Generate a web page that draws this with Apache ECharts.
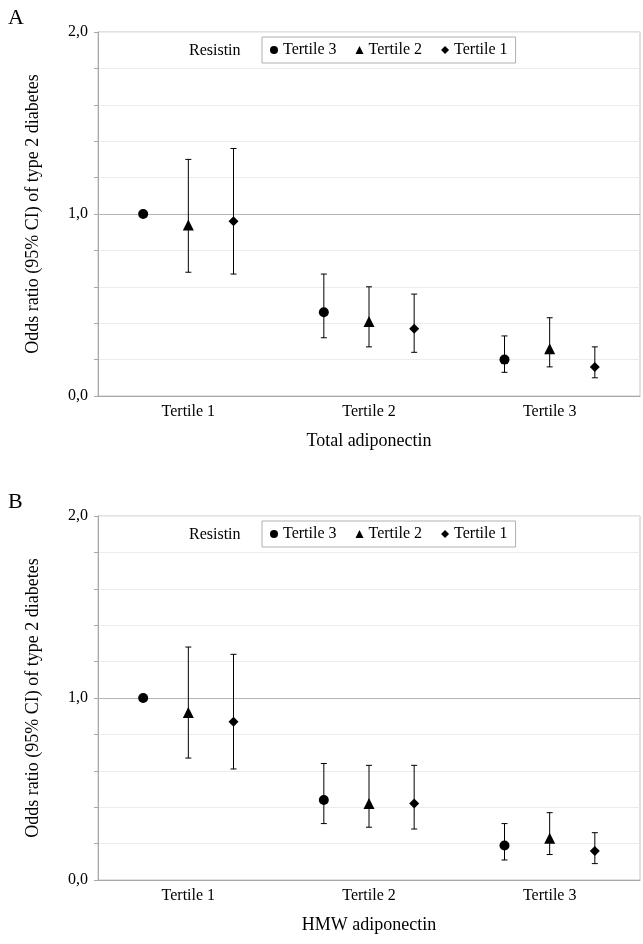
<!DOCTYPE html>
<html>
<head>
<meta charset="utf-8">
<script src="https://cdn.jsdelivr.net/npm/echarts@6/dist/echarts.min.js"></script>
<style>
html,body{margin:0;padding:0;background:#fff;}
#c{width:643px;height:944px;}
</style>
</head>
<body>
<div id="c"></div>
<script>
// ---- data ----
const categories = ['Tertile 1', 'Tertile 2', 'Tertile 3'];
const groupNames = ['Tertile 3', 'Tertile 2', 'Tertile 1'];
const yTicks = [0, 1, 2];

// Panel A: Total adiponectin
const aT3 = [1.00, 0.46, 0.20];
const aT3Lo = [null, 0.32, 0.13];
const aT3Hi = [null, 0.67, 0.33];
const aT2 = [0.94, 0.41, 0.26];
const aT2Lo = [0.68, 0.27, 0.16];
const aT2Hi = [1.30, 0.60, 0.43];
const aT1 = [0.96, 0.37, 0.16];
const aT1Lo = [0.67, 0.24, 0.10];
const aT1Hi = [1.36, 0.56, 0.27];

// Panel B: HMW adiponectin
const bT3 = [1.00, 0.44, 0.19];
const bT3Lo = [null, 0.31, 0.11];
const bT3Hi = [null, 0.64, 0.31];
const bT2 = [0.92, 0.42, 0.23];
const bT2Lo = [0.67, 0.29, 0.14];
const bT2Hi = [1.28, 0.63, 0.37];
const bT1 = [0.87, 0.42, 0.16];
const bT1Lo = [0.61, 0.28, 0.09];
const bT1Hi = [1.24, 0.63, 0.26];

// ---- chart ----
const FONT = 'Liberation Serif';
const dodge = [-0.25, 0, 0.25];
const symbols = ['circle', 'triangle', 'diamond'];
const symbolSizes = [10, 11, 10];

const panels = [
  { letter: 'A', xname: 'Total adiponectin', top: 32,
    vals: [aT3, aT2, aT1], lo: [aT3Lo, aT2Lo, aT1Lo], hi: [aT3Hi, aT2Hi, aT1Hi] },
  { letter: 'B', xname: 'HMW adiponectin', top: 516,
    vals: [bT3, bT2, bT1], lo: [bT3Lo, bT2Lo, bT1Lo], hi: [bT3Hi, bT2Hi, bT1Hi] }
];
const H = 364;

function renderErr(params, api) {
  const x = api.value(0), lo = api.value(1), hi = api.value(2);
  const p1 = api.coord([x, hi]);
  const p2 = api.coord([x, lo]);
  const cap = 3;
  const st = { stroke: '#000', lineWidth: 1 };
  return {
    type: 'group',
    children: [
      { type: 'line', shape: { x1: p1[0], y1: p1[1], x2: p2[0], y2: p2[1] }, style: st },
      { type: 'line', shape: { x1: p1[0] - cap, y1: p1[1], x2: p1[0] + cap, y2: p1[1] }, style: st },
      { type: 'line', shape: { x1: p2[0] - cap, y1: p2[1], x2: p2[0] + cap, y2: p2[1] }, style: st }
    ]
  };
}

const grid = [], xAxis = [], yAxis = [], series = [], legend = [], graphic = [];

panels.forEach((p, pi) => {
  grid.push({ left: 98, right: 3, top: p.top, height: H, show: true,
    borderColor: '#c4c4c4', borderWidth: 1, backgroundColor: 'transparent' });
  // category axis for labels
  xAxis.push({
    type: 'category', gridIndex: pi, data: categories, boundaryGap: true,
    axisLine: { onZero: false, lineStyle: { color: '#a8a8a8' } },
    axisTick: { show: false },
    axisLabel: { color: '#000', fontFamily: FONT, fontSize: 16, margin: 8 },
    name: p.xname, nameLocation: 'middle', nameGap: 36,
    nameTextStyle: { color: '#000', fontFamily: FONT, fontSize: 18 },
    splitLine: { show: false }
  });
  // hidden value axis for dodged positions
  xAxis.push({
    type: 'value', gridIndex: pi, min: -0.5, max: 2.5, show: false,
    splitLine: { show: false }
  });
  yAxis.push({
    type: 'value', gridIndex: pi, min: 0, max: 2, interval: 0.2,
    axisLine: { show: true, onZero: false, lineStyle: { color: '#a8a8a8' } },
    axisTick: { show: true, length: 4, lineStyle: { color: '#a8a8a8' } },
    axisLabel: {
      color: '#000', fontFamily: FONT, fontSize: 16, margin: 10,
      formatter: v => {
        const r = Math.round(v);
        return (Math.abs(v - r) < 1e-6 && yTicks.indexOf(r) >= 0) ? r.toFixed(1).replace('.', ',') : '';
      }
    },
    splitLine: { show: true, lineStyle: { color: '#ececec', width: 1 } },
    name: 'Odds ratio (95% CI) of type 2 diabetes', nameLocation: 'middle', nameRotate: 90, nameGap: 56,
    nameTextStyle: { color: '#000', fontFamily: FONT, fontSize: 18 }
  });
  const xai = pi * 2 + 1;
  groupNames.forEach((g, gi) => {
    const errData = [];
    const ptData = [];
    categories.forEach((c, ci) => {
      const x = ci + dodge[gi];
      ptData.push([x, p.vals[gi][ci]]);
      if (p.lo[gi][ci] != null && p.hi[gi][ci] != null) errData.push([x, p.lo[gi][ci], p.hi[gi][ci]]);
    });
    series.push({
      type: 'custom', xAxisIndex: xai, yAxisIndex: pi, renderItem: renderErr,
      data: errData, encode: { x: 0, y: [1, 2] }, silent: true, z: 2
    });
    series.push({
      type: 'scatter', name: g, xAxisIndex: xai, yAxisIndex: pi,
      symbol: symbols[gi], symbolSize: symbolSizes[gi],
      itemStyle: { color: '#000', opacity: 1 }, data: ptData, z: 3,
      markLine: gi === 0 ? {
        silent: true, symbol: 'none', label: { show: false },
        lineStyle: { color: '#b4b4b4', type: 'solid', width: 1 },
        data: [{ yAxis: 1 }], z: 1
      } : undefined
    });
  });
  legend.push({
    left: 262, top: p.top + 5, orient: 'horizontal',
    data: groupNames.map((g, gi) => ({ name: g, icon: symbols[gi], itemStyle: { color: '#000', opacity: 1 } })),
    itemWidth: 8, itemHeight: 8, itemGap: 19,
    borderColor: '#b0b0b0', borderWidth: 1, padding: [5, 8, 5, 8],
    backgroundColor: '#fff',
    textStyle: { color: '#000', fontFamily: FONT, fontSize: 16 },
    selectedMode: false
  });
  graphic.push({
    type: 'text', left: 189, top: p.top + 11,
    style: { text: 'Resistin', fill: '#000', font: '16px "' + FONT + '"' }
  });
  graphic.push({
    type: 'text', left: 8, top: p.top - 25,
    style: { text: p.letter, fill: '#000', font: '22px "' + FONT + '"' }
  });
});

const chart = echarts.init(document.getElementById('c'), null, { renderer: 'canvas' });
chart.setOption({
  animation: false,
  backgroundColor: '#fff',
  grid, xAxis, yAxis, series, legend, graphic
});
</script>
</body>
</html>
